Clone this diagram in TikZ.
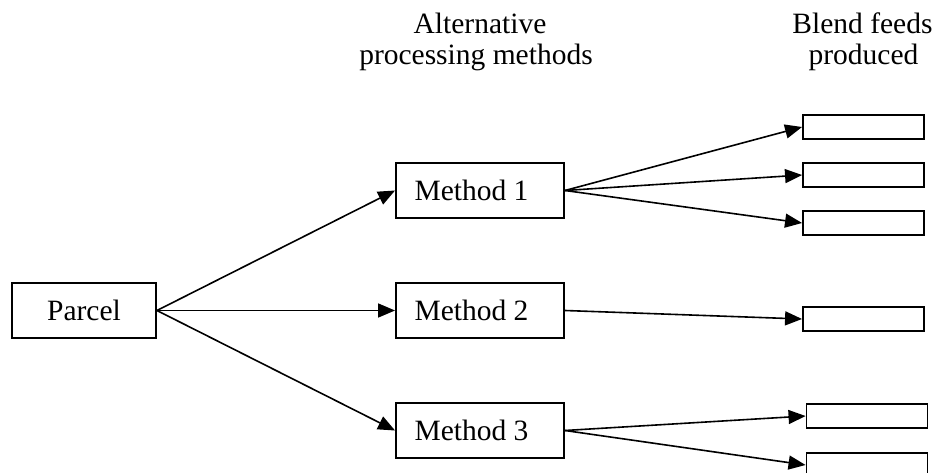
\documentclass[tikz,border=0pt]{standalone}
\usepackage{fontspec}
\setmainfont{Liberation Serif}
\usetikzlibrary{arrows.meta}
\begin{document}
\begin{tikzpicture}[x=1pt,y=-1pt,
  every node/.style={font=\fontsize{29.5}{31}\selectfont},
  box/.style={draw,line width=1.9pt,inner sep=0pt,minimum width=168pt,minimum height=55pt},
  pbox/.style={draw,line width=1.9pt,inner sep=0pt,minimum width=144pt,minimum height=55pt},
  fbox/.style={draw,line width=1.9pt,inner sep=0pt,minimum width=121pt,minimum height=24pt},
  head/.style={anchor=base,inner sep=0pt},
  conn/.style={line width=1.6pt,-{Triangle[length=17pt,width=14pt]}}]
\useasboundingbox (0,0) rectangle (942,473);
% headers
\node[head] (h1) at (480,34) {Alternative};
\node[head] (h2) at (476,65) {processing methods};
\node[head] (h3) at (862.5,34) {Blend feeds};
\node[head] (h4) at (863.5,65) {produced};
% boxes
\node[pbox] (parcel) at (84,310.5) {Parcel};
\node[box] (m1) at (480,190.5) {Method 1\hspace*{17pt}};
\node[box] (m2) at (480,310.5) {Method 2\hspace*{17pt}};
\node[box] (m3) at (480,430.5) {Method 3\hspace*{17pt}};
\node[fbox] (f1) at (863.5,127) {};
\node[fbox] (f2) at (863.5,175) {};
\node[fbox] (f3) at (863.5,223) {};
\node[fbox] (f4) at (863.5,319) {};
\node[fbox] (f5) at (867,416) {};
\node[fbox] (f6) at (867,465) {};
% connectors
\draw[conn] (parcel.east) -- (m1.west);
\draw[conn] (parcel.east) -- (m2.west);
\draw[conn] (parcel.east) -- (m3.west);
\draw[conn] (m1.east) -- (f1.west);
\draw[conn] (m1.east) -- (f2.west);
\draw[conn] (m1.east) -- (f3.west);
\draw[conn] (m2.east) -- (f4.west);
\draw[conn] (m3.east) -- (f5.west);
\draw[conn] (m3.east) -- (f6.west);
\end{tikzpicture}
\end{document}
